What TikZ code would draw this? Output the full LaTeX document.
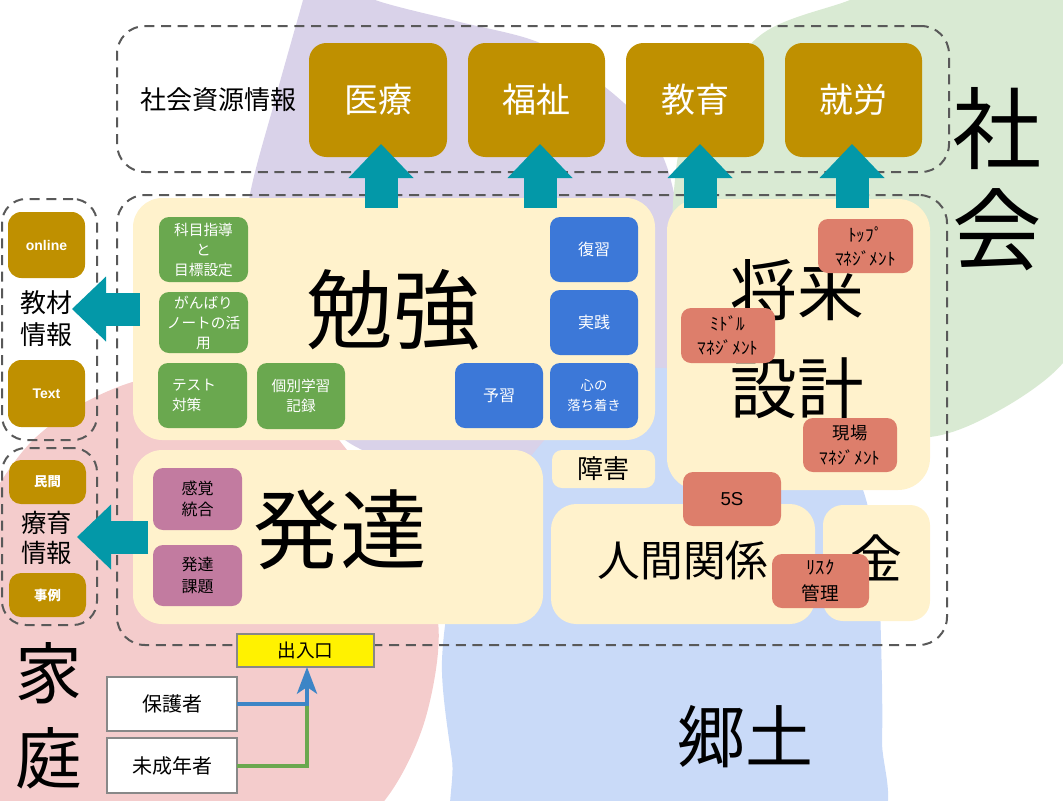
\documentclass[tikz,border=0pt]{standalone}
\usepackage{fontspec}
\setmainfont{Noto Sans CJK JP}
\newfontfamily\latf{Liberation Sans}
\usetikzlibrary{arrows.meta,calc}
\definecolor{gold}{HTML}{BF9000}
\definecolor{cream}{HTML}{FFF2CC}
\definecolor{gbox}{HTML}{6AA84F}
\definecolor{bbox}{HTML}{3C78D8}
\definecolor{pbox}{HTML}{C27BA0}
\definecolor{sbox}{HTML}{DD7E6B}
\definecolor{teal2}{HTML}{0398A8}
\definecolor{bgpurple}{HTML}{D9D2E9}
\definecolor{bggreen}{HTML}{D9EAD3}
\definecolor{bgpink}{HTML}{F4CCCC}
\definecolor{bgblue}{HTML}{C9DAF8}
\definecolor{dashgray}{HTML}{595959}
\definecolor{lineblue}{HTML}{3D85C6}
\definecolor{linegreen}{HTML}{6AA84F}
\definecolor{edgegray}{HTML}{888888}
\newcommand{\fsz}[2]{\fontsize{#1}{#2}\selectfont}
\begin{document}
\begin{tikzpicture}[x=0.75pt,y=-0.75pt,
  sz/.style 2 args={minimum width=#1*0.75pt, minimum height=#2*0.75pt},
  base/.style={inner sep=0pt, outer sep=0pt, align=center},
  container/.style={base, draw=dashgray, line width=1.5pt, dash pattern=on 7.5pt off 5pt, rounded corners=21pt},
  goldbox/.style={base, fill=gold, rounded corners=13pt, text=white},
  creambox/.style={base, fill=cream, rounded corners=22pt},
  gbx/.style={base, fill=gbox, rounded corners=7.5pt, text=white, font=\fsz{11pt}{15pt}},
  bbx/.style={base, fill=bbox, rounded corners=7.5pt, text=white, font=\fsz{12pt}{15pt}},
  pbx/.style={base, fill=pbox, rounded corners=7.5pt, text=black, font=\fsz{12pt}{16pt}},
  sbx/.style={base, fill=sbox, rounded corners=7.5pt, text=black, font=\fsz{13pt}{18pt}},
  plainbox/.style={base, draw=edgegray, line width=1.1pt},
  fat/.style={draw=teal2, line width=24.75pt, -{Triangle[width=48.75pt,length=25.5pt,line width=0pt]}}
]
\useasboundingbox (0,0) rectangle (1063,800);
% background regions
\fill[bgpurple] plot[smooth cycle] coordinates {(310,-30) (375,0) (460,22) (540,43) (605,87) (645,125) (668,170) (682,240) (684,320) (665,400) (610,450) (520,472) (420,468) (345,440) (285,370) (255,290) (248,207) (275,100) (303,0)};
\fill[bggreen] plot[smooth cycle] coordinates {(850,0) (762,34) (690,120) (674,190) (676,275) (715,365) (820,430) (930,437) (1000,410) (1063,363) (1110,280) (1120,100) (1080,-40) (920,-30)};
\fill[bgpink] plot[smooth cycle] coordinates {(-30,540) (0,483) (33,440) (80,405) (140,380) (230,370) (300,395) (343,445) (400,520) (438,622) (425,720) (385,800) (300,880) (100,900) (-60,750)};
\fill[bgblue] plot[smooth cycle] coordinates {(655,368) (760,392) (830,432) (863,490) (877,560) (881,640) (882,740) (875,830) (700,900) (470,860) (452,760) (442,660) (460,560) (520,470) (580,405)};

% dashed containers
\node[container, sz={832}{146}] (topc) at (533,99) {};
\node[container, sz={830}{450}] (mainc) at (532,420) {};
\node[container, sz={95}{241}, rounded corners=18pt] (kyozai) at (49.5,319.5) {};
\node[container, sz={95}{177}, rounded corners=18pt] (ryoiku) at (49.5,536.5) {};

\node[base, font=\fsz{19.5pt}{24pt}] (shigen) at (218,100) {社会資源情報};

% resource boxes
\node[goldbox, sz={138}{114}, font=\fsz{25.5pt}{30pt}] (iryo) at (378,100) {医療};
\node[goldbox, sz={137}{114}, font=\fsz{25.5pt}{30pt}] (fukushi) at (536.5,100) {福祉};
\node[goldbox, sz={138}{114}, font=\fsz{25.5pt}{30pt}] (kyoiku) at (695,100) {教育};
\node[goldbox, sz={137}{114}, font=\fsz{25.5pt}{30pt}] (shuro) at (853.5,100) {就労};

\node[goldbox, sz={77}{66}, rounded corners=10pt, font=\latf\bfseries\fsz{10.5pt}{12pt}] (online) at (46.5,245) {online};
\node[goldbox, sz={77}{67}, rounded corners=10pt, font=\latf\bfseries\fsz{10.5pt}{12pt}] (textb) at (46.5,393.5) {Text};
\node[goldbox, sz={77}{44}, rounded corners=9pt, font=\bfseries\fsz{10pt}{12pt}] (minkan) at (47.5,482) {民間};
\node[goldbox, sz={77}{44}, rounded corners=9pt, font=\bfseries\fsz{10pt}{12pt}] (jirei) at (47.5,595) {事例};
\node[base, font=\fsz{19.5pt}{24pt}] (kyozaitxt) at (47,319) {教材\\情報};
\node[base, font=\fsz{19pt}{23pt}] (ryoikutxt) at (47,538) {療育\\情報};

% cream areas
\node[creambox, sz={522}{242}] (benkyo) at (394,319) {};
\node[creambox, sz={263}{291}, rounded corners=24pt] (shorai) at (798.5,344.5) {};
\node[creambox, sz={410}{174}] (hattatsu) at (338,537) {};
\node[creambox, sz={103}{38}, rounded corners=7.5pt, font=\fsz{19.5pt}{24pt}] (shogai) at (603.5,469) {障害};
\node[creambox, sz={264}{120}, rounded corners=19pt] (ningen) at (683,564) {};
\node[creambox, sz={107}{116}, rounded corners=15pt] (kane) at (876.5,563) {};

% study items
\node[gbx, sz={89}{65}] (kamoku) at (203.5,249.5) {科目指導\\と\\目標設定};
\node[gbx, sz={89}{61}] (ganbari) at (203.5,322.5) {がんばり\\ノートの活\\用};
\node[gbx, sz={89}{65}, align=left, text width=45.75pt] (test) at (202.5,395.5) {テスト\\対策};
\node[gbx, sz={88}{66}] (kobetsu) at (301,396) {個別学習\\記録};
\node[bbx, sz={88}{65}] (fukushu) at (594,249.5) {復習};
\node[bbx, sz={88}{65}] (jissen) at (594,322.5) {実践};
\node[bbx, sz={88}{65}] (yoshu) at (499,395.5) {予習};
\node[bbx, sz={88}{65}, font=\fsz{10pt}{15pt}] (kokoro) at (594,395.5) {心の\\落ち着き};
\node[pbx, sz={89}{62}] (kankaku) at (197.5,499) {感覚\\統合};
\node[pbx, sz={89}{61}] (kadai) at (197.5,575.5) {発達\\課題};

% big labels
\node[base, font=\fsz{65pt}{70pt}] (benkyotxt) at (393,310) {勉強};
\node[base, font=\fsz{65pt}{70pt}] (hattatsutxt) at (340,530) {発達};
\node[base, font=\fsz{50pt}{73.5pt}] (shoraitxt) at (797,339) {将来\\設計};
\node[base, font=\fsz{32pt}{36pt}] (ningentxt) at (683,560) {人間関係};
\node[base, font=\fsz{39pt}{44pt}] (kanetxt) at (876,558) {金};
\node[base, font=\fsz{67pt}{75.75pt}] (shakaitxt) at (997,179.5) {社\\会};
\node[base, font=\fsz{50pt}{63.75pt}] (kateitxt) at (49,715.5) {家\\庭};
\node[base, font=\fsz{51pt}{56pt}] (kyodotxt) at (745,737) {郷土};

% management boxes
\node[sbx, sz={95}{54}] (top) at (865.5,246) {ﾄｯﾌﾟ\\ﾏﾈｼﾞﾒﾝﾄ};
\node[sbx, sz={94}{55}] (middle) at (728,335.5) {ﾐﾄﾞﾙ\\ﾏﾈｼﾞﾒﾝﾄ};
\node[sbx, sz={94}{54}, font=\fsz{13pt}{18.75pt}] (genba) at (850,445) {現場\\ﾏﾈｼﾞﾒﾝﾄ};
\node[sbx, sz={98}{54}, font=\latf\fsz{14pt}{16pt}] (fives) at (732,499) {5S};
\node[sbx, sz={97}{54}, font=\fsz{14pt}{20pt}] (risk) at (820.5,581) {ﾘｽｸ\\管理};

% fat arrows
\draw[fat] ($(benkyo.north -| iryo.south)+(3,10)$) -- ($(iryo.south)+(3,-13)$);
\draw[fat] ($(benkyo.north -| fukushi.south)+(3.5,10)$) -- ($(fukushi.south)+(3.5,-13)$);
\draw[fat] ($(shorai.north -| kyoiku.south)+(5,9)$) -- ($(kyoiku.south)+(5,-13)$);
\draw[fat] ($(shorai.north -| shuro.south)+(-1.5,9)$) -- ($(shuro.south)+(-1.5,-13)$);
\draw[fat] ($(benkyo.west)+(7,-10)$) -- ($(kyozai.east)+(-25,-10.5)$);
\draw[fat] ($(hattatsu.west)+(15,0)$) -- ($(ryoiku.east)+(-20,0.5)$);

% entrance
\node[plainbox, fill=yellow, sz={137}{33}, font=\fsz{14pt}{16pt}] (deiri) at (305.5,650.5) {出入口};
\node[plainbox, fill=white, sz={130}{54}, font=\fsz{15pt}{18pt}] (hogo) at (172,704) {保護者};
\node[plainbox, fill=white, sz={130}{55}, font=\fsz{15pt}{18pt}] (mise) at (172,765.5) {未成年者};
\coordinate (junc) at (307,703);
\draw[linegreen, line width=3pt] (mise.east) -| (junc);
\draw[lineblue, line width=3pt, -{Stealth[length=20pt,width=15pt,inset=5pt]}] (hogo.east) -| (deiri.south -| junc);
\end{tikzpicture}
\end{document}
